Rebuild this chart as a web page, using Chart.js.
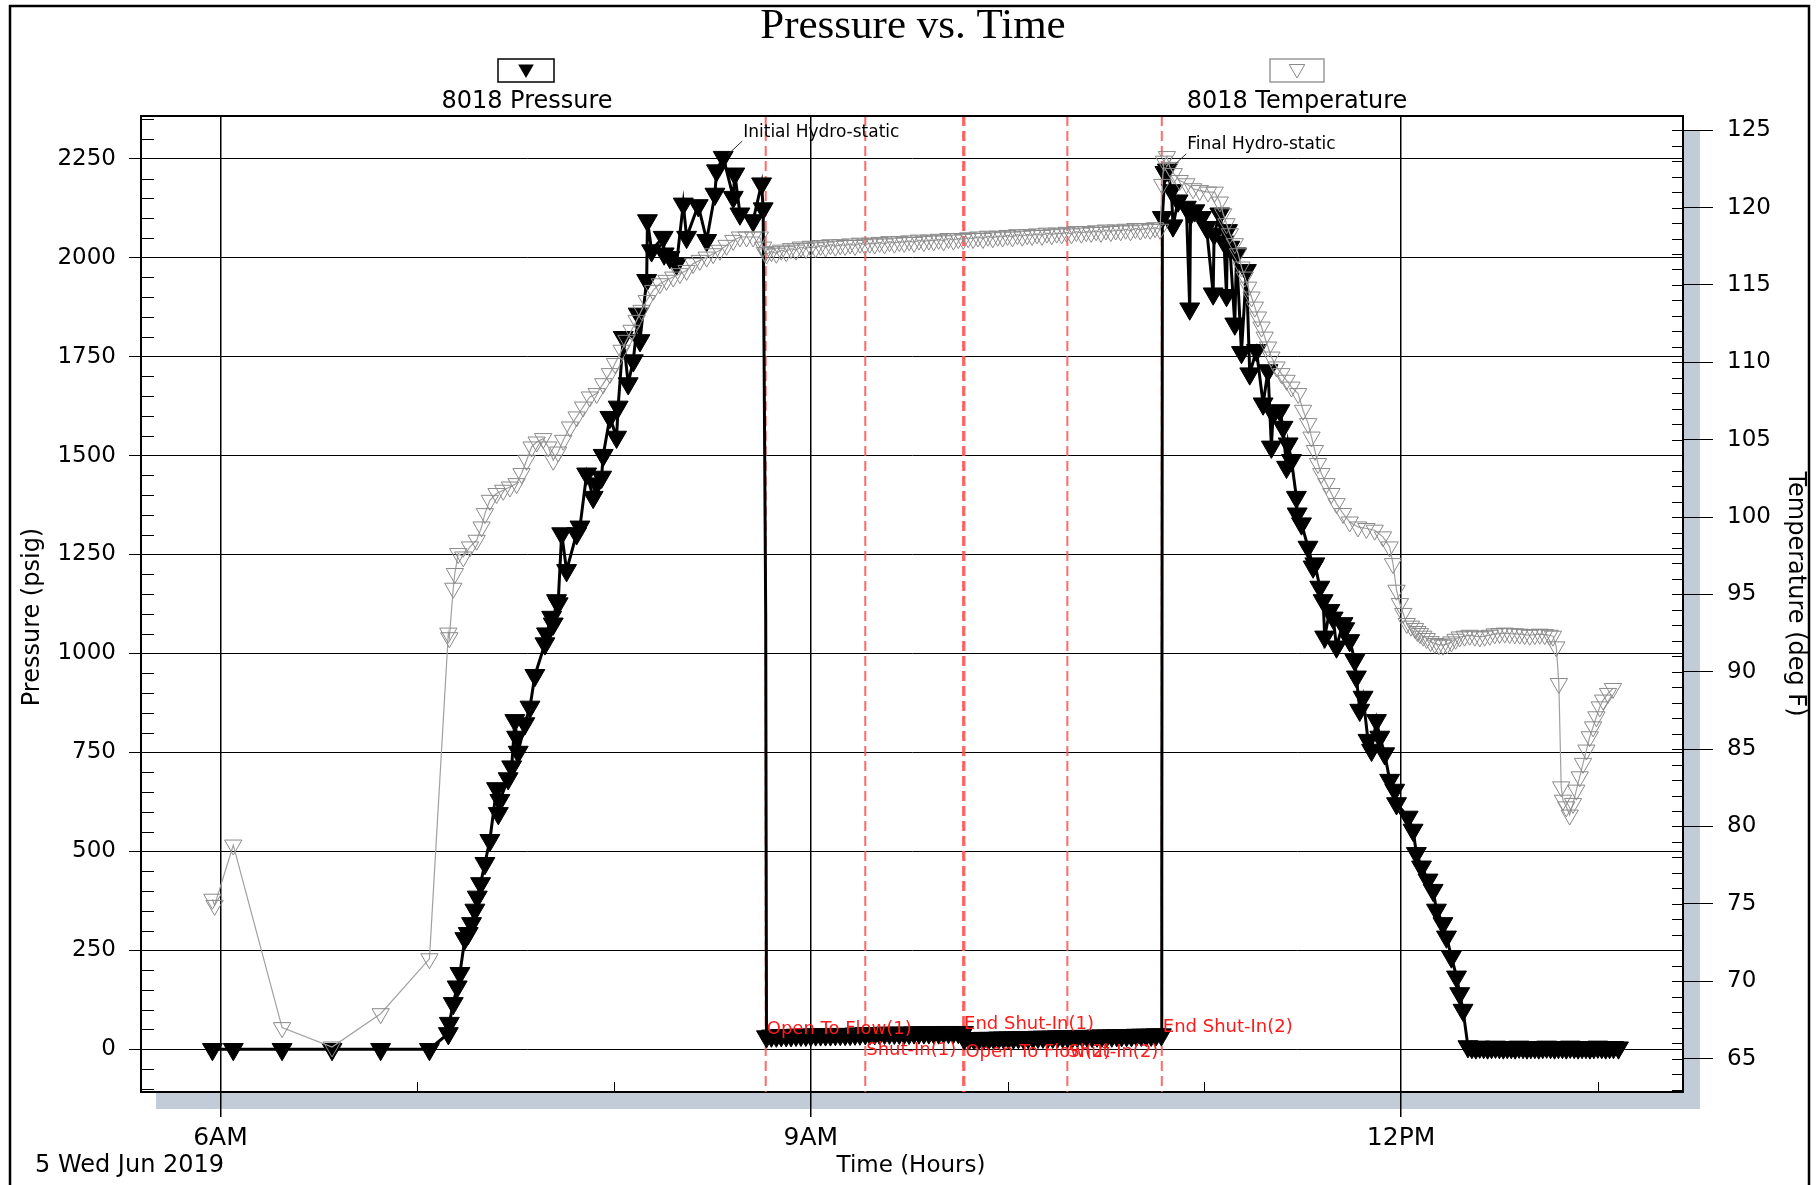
<!DOCTYPE html>
<html>
<head>
<meta charset="utf-8">
<title>Pressure vs. Time</title>
<script src="https://cdn.jsdelivr.net/npm/chart.js@4.4.1/dist/chart.umd.min.js"></script>
<style>
  html, body { margin: 0; padding: 0; background: #fff; }
  canvas { display: block; }
</style>
</head>
<body>
<canvas id="chart" width="1820" height="1185"></canvas>
<script>
// gauge 8018, 5 Wed Jun 2019 - time in decimal hours
const pressureHours = [
  5.959, 6.065, 6.313, 6.567, 6.814, 7.062, 7.158, 7.163, 7.183, 7.203, 7.217, 7.242, 7.259, 7.276, 7.293,
  7.305, 7.322, 7.344, 7.369, 7.403, 7.412, 7.420, 7.462, 7.480, 7.496, 7.505, 7.513, 7.547, 7.573, 7.598,
  7.649, 7.657, 7.683, 7.691, 7.708, 7.716, 7.734, 7.759, 7.810, 7.827, 7.861, 7.894, 7.912, 7.937, 7.945,
  7.979, 8.013, 8.021, 8.047, 8.072, 8.098, 8.123, 8.132, 8.166, 8.170, 8.191, 8.250, 8.255, 8.284, 8.318,
  8.352, 8.369, 8.428, 8.471, 8.513, 8.521, 8.555, 8.606, 8.614, 8.640, 8.707, 8.750, 8.758, 8.771,
  8.775, 8.800, 8.825, 8.850, 8.875, 8.900, 8.925, 8.950, 8.975, 9.000, 9.025, 9.050, 9.075, 9.100, 9.125,
  9.150, 9.175, 9.200, 9.225, 9.250, 9.277, 9.300, 9.325, 9.350, 9.375, 9.400, 9.425, 9.450, 9.475, 9.500,
  9.525, 9.550, 9.575, 9.600, 9.625, 9.650, 9.675, 9.700, 9.725, 9.750, 9.776, 9.780, 9.805, 9.830, 9.855,
  9.880, 9.905, 9.930, 9.955, 9.980, 10.005, 10.030, 10.055, 10.080, 10.105, 10.130, 10.155, 10.180, 10.205,
  10.230, 10.255, 10.280, 10.305, 10.330, 10.355, 10.380, 10.405, 10.430, 10.455, 10.480, 10.505, 10.530,
  10.555, 10.580, 10.605, 10.630, 10.655, 10.680, 10.705, 10.730, 10.755, 10.782,
  10.784, 10.787, 10.800, 10.812,
  10.833, 10.841, 10.867, 10.909, 10.926, 10.930, 10.952, 10.986, 11.011, 11.045, 11.050, 11.079, 11.100,
  11.113, 11.118, 11.130, 11.155, 11.164, 11.189, 11.214, 11.231, 11.265, 11.299, 11.324, 11.341, 11.350,
  11.384, 11.400, 11.418, 11.426, 11.443, 11.468, 11.472, 11.494, 11.527, 11.553, 11.562, 11.587, 11.604,
  11.612, 11.638, 11.655, 11.672, 11.705, 11.714, 11.739, 11.765, 11.773, 11.790, 11.807, 11.832, 11.850,
  11.875, 11.892, 11.917, 11.942, 11.968, 11.977, 12.036, 12.061, 12.078, 12.104, 12.137, 12.163, 12.180,
  12.213, 12.231, 12.256, 12.282, 12.298, 12.315, 12.340,
  12.36, 12.38, 12.40, 12.42, 12.44, 12.46, 12.48, 12.50, 12.52, 12.54, 12.56, 12.58, 12.60, 12.62, 12.64,
  12.66, 12.68, 12.70, 12.72, 12.74, 12.76, 12.78, 12.80, 12.82, 12.84, 12.86, 12.88, 12.90, 12.92, 12.94,
  12.96, 12.98, 13.00, 13.02, 13.04, 13.06, 13.08, 13.105
];
const pressurePsi = [
  0, 0, 0, 0, 0, 0, 40, 66, 116, 158, 192, 280, 293, 318, 352,
  385, 419, 470, 528, 659, 596, 629, 684, 714, 831, 789, 751, 823, 865, 945,
  1025, 1050, 1092, 1075, 1134, 1126, 1303, 1210, 1303, 1320, 1454, 1395, 1429, 1446, 1501,
  1597, 1547, 1623, 1799, 1682, 1740, 1858, 1791, 1943, 2094, 2018, 2052, 2010, 2001, 1985,
  2136, 2052, 2132, 2044, 2161, 2220, 2254, 2153, 2212, 2111, 2094, 2187, 2124, 1100,
  32, 34, 34, 35, 35, 35, 36, 36, 36, 36, 37, 37, 37, 37, 38,
  38, 38, 38, 39, 39, 40, 40, 40, 40, 41, 41, 41, 41, 41, 41,
  42, 42, 42, 42, 42, 42, 43, 43, 43, 43, 43, 27, 27, 27, 28,
  28, 28, 28, 29, 29, 29, 29, 30, 30, 30, 30, 31, 31, 31,
  31, 32, 32, 32, 32, 33, 33, 33, 33, 34, 34, 34, 34,
  35, 35, 35, 35, 36, 36, 36, 36, 37, 37,
  380, 2102, 2216, 2222,
  2170, 2081, 2144, 2128, 1871, 2110, 2119, 2102, 2077, 1909, 2060, 2111, 2040,
  1905, 2069, 2027, 1833, 2010, 1761, 1968, 1707, 1766, 1631, 1715, 1522, 1606,
  1614, 1572, 1471, 1530, 1488, 1395, 1353, 1328, 1269, 1219, 1227, 1168, 1134,
  1042, 1109, 1090, 1017, 1076, 1063, 1033, 983, 941, 857, 890, 781, 756,
  831, 789, 747, 680, 655, 621, 587, 554, 495, 461, 428, 402, 352,
  318, 284, 234, 183, 141, 99, 7,
  5, 4, 6, 5, 4, 5, 6, 5, 4, 5, 5, 4, 6, 5, 4,
  5, 5, 4, 5, 6, 5, 4, 5, 5, 4, 6, 5, 4, 5, 5,
  4, 5, 6, 5, 4, 5, 5, 4
];

const tempHours = [
  5.959, 5.970, 6.065, 6.313, 6.567, 6.814, 7.062, 7.158, 7.163, 7.183, 7.191, 7.208, 7.234, 7.268, 7.302,
  7.327, 7.344, 7.369, 7.403, 7.437, 7.471, 7.505, 7.530, 7.556, 7.581, 7.607, 7.640, 7.666, 7.691, 7.716,
  7.742, 7.776, 7.810, 7.843, 7.877, 7.912, 7.945, 7.979, 8.005, 8.039, 8.064, 8.089, 8.115, 8.140, 8.166,
  8.199, 8.233, 8.267, 8.301, 8.335, 8.369, 8.402, 8.436, 8.471, 8.504, 8.538, 8.572, 8.606, 8.640, 8.674,
  8.707, 8.741, 8.758, 8.767,
  8.775, 8.800, 8.825, 8.850, 8.875, 8.900, 8.925, 8.950, 8.975, 9.000, 9.025, 9.050, 9.075, 9.100, 9.125,
  9.150, 9.175, 9.200, 9.225, 9.250, 9.275, 9.300, 9.325, 9.350, 9.375, 9.400, 9.425, 9.450, 9.475, 9.500,
  9.525, 9.550, 9.575, 9.600, 9.625, 9.650, 9.675, 9.700, 9.725, 9.750, 9.775, 9.800, 9.825, 9.850, 9.875,
  9.900, 9.925, 9.950, 9.975, 10.000, 10.025, 10.050, 10.075, 10.100, 10.125, 10.150, 10.175, 10.200, 10.225,
  10.250, 10.275, 10.300, 10.325, 10.350, 10.375, 10.400, 10.425, 10.450, 10.475, 10.500, 10.525, 10.550,
  10.575, 10.600, 10.625, 10.650, 10.675, 10.700, 10.725, 10.750, 10.775,
  10.786, 10.795, 10.810, 10.825, 10.845, 10.875, 10.909, 10.943, 10.977, 11.019, 11.053, 11.079, 11.096,
  11.113, 11.130, 11.155, 11.172, 11.189, 11.206, 11.223, 11.240, 11.257, 11.273, 11.291, 11.307, 11.324,
  11.341, 11.367, 11.392, 11.418, 11.443, 11.477, 11.502, 11.528, 11.545, 11.562, 11.578, 11.595, 11.621,
  11.646, 11.672, 11.705, 11.739, 11.781, 11.824, 11.866, 11.908, 11.942, 11.959, 11.977, 11.994, 12.011,
  12.029, 12.050, 12.071, 12.083, 12.096, 12.113, 12.130, 12.150, 12.172, 12.192, 12.213, 12.235, 12.256,
  12.277, 12.298, 12.323, 12.349, 12.375, 12.400, 12.425, 12.451, 12.476, 12.501, 12.527, 12.552, 12.578,
  12.603, 12.628, 12.654, 12.680, 12.705, 12.730, 12.755, 12.772, 12.789, 12.802, 12.814, 12.823, 12.840,
  12.857, 12.874, 12.891, 12.908, 12.925, 12.942, 12.959, 12.976, 12.993, 13.010, 13.027, 13.052, 13.077
];
const tempDegF = [
  75.3, 74.9, 78.8, 67.0, 65.75, 67.9, 71.45, 92.5, 92.2, 95.4, 96.35, 97.64, 97.42, 98.07, 98.5,
  99.36, 100.22, 101.08, 101.52, 101.73, 101.94, 102.16, 102.81, 103.67, 104.53, 104.85, 105.07, 104.53, 103.67, 104.2,
  104.96, 105.82, 106.47, 107.11, 107.76, 107.98, 108.62, 109.27, 109.92, 110.78, 111.42, 112.07, 112.71, 113.36, 114.0,
  114.65, 115.08, 115.3, 115.51, 115.73, 115.94, 116.38, 116.59, 116.8, 117.02, 117.24, 117.56, 117.88, 118.1, 118.1,
  118.1, 118.1, 117.45, 117.1,
  117.0, 117.15, 117.05, 117.25, 117.15, 117.35, 117.25, 117.45, 117.35, 117.5, 117.4, 117.55, 117.45, 117.6, 117.5,
  117.6, 117.55, 117.65, 117.55, 117.7, 117.6, 117.7, 117.65, 117.75, 117.65, 117.8, 117.7, 117.8, 117.75, 117.85,
  117.75, 117.9, 117.8, 117.9, 117.85, 117.95, 117.85, 118.0, 117.9, 118.0, 117.95, 118.05, 118.0, 118.1, 118.0,
  118.15, 118.05, 118.15, 118.1, 118.2, 118.1, 118.25, 118.15, 118.25, 118.2, 118.3, 118.2, 118.35, 118.25,
  118.35, 118.3, 118.4, 118.3, 118.45, 118.35, 118.45, 118.4, 118.5, 118.4, 118.55, 118.45, 118.55,
  118.5, 118.6, 118.5, 118.65, 118.55, 118.65, 118.6, 118.7, 118.6,
  121.5, 123.0, 123.3, 122.6, 122.2, 121.75, 121.54, 121.22, 121.1, 121.0, 121.0, 120.36, 119.6,
  118.96, 118.31, 117.67, 117.02, 116.16, 115.51, 114.86, 114.22, 113.57, 112.93, 112.28, 111.63, 110.99,
  110.34, 109.7, 109.27, 108.84, 108.4, 107.98, 106.9, 106.04, 105.17, 104.3, 103.46, 102.81, 102.16,
  101.52, 100.87, 100.23, 99.68, 99.36, 99.26, 99.15, 98.72, 98.07, 96.99, 95.27, 94.41, 93.77,
  93.12, 92.95, 92.8, 92.6, 92.47, 92.3, 92.15, 91.95, 91.83, 91.75, 91.72, 91.8, 91.93,
  92.1, 92.25, 92.3, 92.36, 92.3, 92.25, 92.3, 92.36, 92.45, 92.47, 92.5, 92.47, 92.45,
  92.43, 92.4, 92.36, 92.4, 92.43, 92.4, 92.36, 92.3, 91.61, 89.24, 82.56, 81.7, 81.27,
  80.74, 81.49, 82.35, 83.21, 84.08, 84.94, 85.8, 86.44, 87.09, 87.73, 88.17, 88.6, 88.92
];

const pressureTicks = [0, 250, 500, 750, 1000, 1250, 1500, 1750, 2000, 2250];
const tempTicks = [65, 70, 75, 80, 85, 90, 95, 100, 105, 110, 115, 120, 125];
const timeTicks = [6, 9, 12];
const timeTickLabels = ['6AM', '9AM', '12PM'];

const eventHours = [8.771, 9.277, 9.774, 9.781, 10.304, 10.784];
const eventNames = ['Open To Flow(1)', 'Shut-In(1)', 'End Shut-In(1)', 'Open To Flow(2)', 'Shut-In(2)', 'End Shut-In(2)'];

// where the red event names sit (psi level of the text middle)
const eventLabelLevel = [50, -2, 63, -7, -7, 56];

const sans = '"DejaVu Sans", sans-serif';

function downTriangle(ctx, x, y, r, fill, stroke) {
  ctx.beginPath();
  ctx.moveTo(x, y + r);
  ctx.lineTo(x - r * 0.866, y - r * 0.5);
  ctx.lineTo(x + r * 0.866, y - r * 0.5);
  ctx.closePath();
  if (fill) { ctx.fillStyle = fill; ctx.fill(); }
  if (stroke) { ctx.strokeStyle = stroke; ctx.lineWidth = 1; ctx.stroke(); }
}

// the jump samples at the valve events have no marker in the original plot
const isJumpSample = c => c.raw && eventHours.some(h => Math.abs(h - c.raw.x) < 0.004) && c.raw.y > 300 && c.raw.y < 1500;

const pageDecor = {
  id: 'pageDecor',
  beforeDraw(chart) {
    const { ctx, chartArea: a } = chart;
    ctx.save();
    ctx.fillStyle = '#fff';
    ctx.fillRect(0, 0, chart.width, chart.height);

    // outer frame
    ctx.strokeStyle = '#000';
    ctx.lineWidth = 2.5;
    ctx.strokeRect(10, 6, 1799, 1300);

    // drop shadow of the plot box
    ctx.fillStyle = '#c1ccd8';
    ctx.fillRect(a.left + 15, a.top + 15, a.right - a.left + 2, a.bottom - a.top + 2);
    ctx.fillStyle = '#fff';
    ctx.fillRect(a.left, a.top, a.right - a.left, a.bottom - a.top);

    // title
    ctx.fillStyle = '#000';
    ctx.font = '43px "Liberation Serif", serif';
    ctx.textAlign = 'center';
    ctx.textBaseline = 'alphabetic';
    ctx.fillText('Pressure vs. Time', 913, 38);

    // legend
    ctx.lineWidth = 1.5;
    ctx.strokeStyle = '#000';
    ctx.strokeRect(498, 59, 56, 23);
    downTriangle(ctx, 526, 69, 9, '#000', null);
    ctx.strokeStyle = '#999';
    ctx.strokeRect(1270, 59, 54, 23);
    downTriangle(ctx, 1297, 69, 9, null, '#8a8a8a');

    ctx.fillStyle = '#000';
    ctx.font = `24px ${sans}`;
    ctx.fillText('8018 Pressure', 527, 108);
    ctx.fillText('8018 Temperature', 1297, 108);

    // axis titles
    ctx.textBaseline = 'middle';
    ctx.save();
    ctx.translate(33, 617);
    ctx.rotate(-Math.PI / 2);
    ctx.fillText('Pressure (psig)', 0, 0);
    ctx.restore();
    ctx.save();
    ctx.translate(1795, 594);
    ctx.rotate(Math.PI / 2);
    ctx.fillText('Temperature (deg F)', 0, 0);
    ctx.restore();

    ctx.font = `23px ${sans}`;
    ctx.fillText('Time (Hours)', 911, 1166);
    ctx.textAlign = 'left';
    ctx.font = `24px ${sans}`;
    ctx.fillText('5 Wed Jun 2019', 35, 1166);
    ctx.restore();
  },

  beforeDatasetsDraw(chart) {
    const { ctx, chartArea: a, scales } = chart;
    ctx.save();
    ctx.strokeStyle = 'rgba(255, 80, 80, 0.85)';
    ctx.lineWidth = 2;
    ctx.setLineDash([10, 5]);
    eventHours.forEach(h => {
      const x = scales.x.getPixelForValue(h);
      ctx.beginPath();
      ctx.moveTo(x, a.top);
      ctx.lineTo(x, a.bottom);
      ctx.stroke();
    });
    ctx.restore();
  },

  afterDatasetsDraw(chart) {
    const { ctx, scales } = chart;
    ctx.save();
    ctx.fillStyle = '#ff1a1a';
    ctx.font = `18px ${sans}`;
    ctx.textAlign = 'left';
    ctx.textBaseline = 'middle';
    eventNames.forEach((name, i) => {
      ctx.fillText(name, scales.x.getPixelForValue(eventHours[i]) + 1, scales.y.getPixelForValue(eventLabelLevel[i]));
    });

    // hydro-static call-outs on the two pressure peaks
    const peak = (from, to) => {
      let best = -1;
      pressureHours.forEach((h, i) => {
        if (h >= from && h <= to && (best < 0 || pressurePsi[i] > pressurePsi[best])) best = i;
      });
      return { x: scales.x.getPixelForValue(pressureHours[best]), y: scales.y.getPixelForValue(pressurePsi[best]) };
    };
    ctx.font = `17px ${sans}`;
    ctx.fillStyle = '#000';
    ctx.strokeStyle = '#333';
    ctx.lineWidth = 1;
    [[peak(8, 8.77), 'Initial Hydro-static'], [peak(10.78, 11), 'Final Hydro-static']].forEach(([p, text]) => {
      ctx.beginPath();
      ctx.moveTo(p.x + 5, p.y - 3);
      ctx.lineTo(p.x + 19, p.y - 16);
      ctx.stroke();
      ctx.fillText(text, p.x + 20, p.y - 25);
    });
    ctx.restore();
  },

  afterDraw(chart) {
    const { ctx, chartArea: a, scales } = chart;
    ctx.save();
    ctx.strokeStyle = '#000';
    ctx.lineWidth = 2;
    ctx.beginPath();
    ctx.moveTo(a.left, a.top);
    ctx.lineTo(a.right, a.top);
    ctx.stroke();

    // minor ticks, drawn inside the plot box
    ctx.lineWidth = 1;
    ctx.beginPath();
    for (let v = -100; v <= 2350; v += 50) {
      if (v % 250 === 0) continue;
      const y = Math.round(scales.y.getPixelForValue(v)) + 0.5;
      ctx.moveTo(a.left, y);
      ctx.lineTo(a.left + 13, y);
    }
    for (let v = 63; v <= 125; v++) {
      const y = Math.round(scales.y1.getPixelForValue(v)) + 0.5;
      ctx.moveTo(a.right - 11, y);
      ctx.lineTo(a.right, y);
    }
    for (let h = 6; h <= 13; h++) {
      if (timeTicks.includes(h)) continue;
      const x = Math.round(scales.x.getPixelForValue(h)) + 0.5;
      ctx.moveTo(x, a.bottom);
      ctx.lineTo(x, a.bottom - 10);
    }
    ctx.stroke();
    ctx.restore();
  }
};

const ctx = document.getElementById('chart');

new Chart(ctx, {
  type: 'line',
  data: {
    datasets: [
      {
        label: '8018 Temperature',
        yAxisID: 'y1',
        order: 0,
        data: tempHours.map((h, i) => ({ x: h, y: tempDegF[i] })),
        borderColor: '#a0a0a0',
        borderWidth: 1.2,
        pointStyle: 'triangle',
        pointRotation: 180,
        pointRadius: 10,
        pointBorderWidth: 1,
        pointBorderColor: '#8a8a8a',
        pointBackgroundColor: 'rgba(0,0,0,0)',
        tension: 0
      },
      {
        label: '8018 Pressure',
        yAxisID: 'y',
        order: 1,
        data: pressureHours.map((h, i) => ({ x: h, y: pressurePsi[i] })),
        borderColor: '#000',
        borderWidth: 3,
        pointStyle: 'triangle',
        pointRotation: 180,
        pointRadius: c => (isJumpSample(c) ? 0 : 11.5),
        pointBorderWidth: 1,
        pointBorderColor: '#000',
        pointBackgroundColor: '#000',
        tension: 0
      }
    ]
  },
  options: {
    responsive: false,
    animation: false,
    devicePixelRatio: 1,
    layout: { padding: { top: 116, left: 0, right: 0, bottom: 0 } },
    plugins: { legend: { display: false }, tooltip: { enabled: false } },
    scales: {
      x: {
        type: 'linear',
        min: 5.596,
        max: 13.433,
        afterBuildTicks: axis => { axis.ticks = timeTicks.map(v => ({ value: v })); },
        afterFit: axis => { axis.height = 93; },
        ticks: {
          padding: 6,
          color: '#000',
          font: { family: sans, size: 25 },
          maxRotation: 0,
          callback: v => timeTickLabels[timeTicks.indexOf(v)]
        },
        grid: { color: '#000', lineWidth: 1.5, tickLength: 25 },
        border: { color: '#000', width: 2 }
      },
      y: {
        type: 'linear',
        position: 'left',
        min: -108,
        max: 2358,
        afterBuildTicks: axis => { axis.ticks = pressureTicks.map(v => ({ value: v })); },
        afterFit: axis => { axis.width = 141; },
        ticks: { padding: 13, color: '#000', font: { family: sans, size: 23 }, callback: v => String(v) },
        grid: { color: '#000', lineWidth: 1, tickLength: 12 },
        border: { color: '#000', width: 2 }
      },
      y1: {
        type: 'linear',
        position: 'right',
        min: 62.84,
        max: 125.92,
        afterBuildTicks: axis => { axis.ticks = tempTicks.map(v => ({ value: v })); },
        afterFit: axis => { axis.width = 137; },
        ticks: { padding: 14, color: '#000', font: { family: sans, size: 23 }, callback: v => String(v) },
        grid: { drawOnChartArea: false, color: '#000', lineWidth: 1, tickLength: 30 },
        border: { color: '#000', width: 2 }
      }
    }
  },
  plugins: [pageDecor]
});
</script>
</body>
</html>
